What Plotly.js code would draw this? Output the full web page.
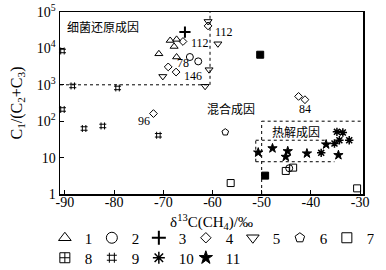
<!DOCTYPE html>
<html><head><meta charset="utf-8">
<script src="https://cdn.plot.ly/plotly-3.0.1.min.js"></script>
<style>html,body{margin:0;padding:0;background:#fff}#chart{width:386px;height:270px}</style>
</head><body><div id="chart"></div>
<script>
// ---- data (delta13C of CH4 in permil, C1/(C2+C3)) ----
const s1x = [-68.6, -67.3, -67.8, -70.9, -67.3];
const s1y = [16500, 17700, 11300, 7100, 5800];
const s2x = [-64.6, -62.9, -44.4];
const s2y = [5800, 4400, 5.1];
const s3x = [-65.6];
const s3y = [28000];
const s4x = [-66.0, -69.0, -67.4, -72.0, -60.9, -42.5, -41.2];
const s4y = [15500, 3100, 2240, 162, 41500, 480, 390];
const s5x = [-70.1, -60.9, -58.9, -60.7, -61.5];
const s5y = [1700, 55000, 13400, 2600, 910];
const s6x = [-57.4];
const s6y = [50];
const s7x = [-56.3, -45.1, -43.6, -30.6];
const s7y = [2.0, 4.3, 5.3, 1.43];
const s8x = [-50.3, -49.3];
const s8y = [6700, 3.2];
const s9x = [-90.5, -88.4, -90.5, -86.1, -82.3, -79.3, -71.0];
const s9y = [8500, 930, 210, 63, 74, 820, 41];
const s10x = [-37.9, -35.2, -34.2, -34.7, -33.5, -32.2];
const s10y = [13.5, 24.5, 30, 51, 49, 30];
const s11x = [-50.7, -47.8, -44.7, -45.1, -40.8, -36.9, -34.4];
const s11y = [13.8, 18, 15, 10.5, 13, 23, 11.7];

const legendLabels = ['1','2','3','4','5','6','7','8','9','10','11'];
const xTickVals = [-90, -80, -70, -60, -50, -40, -30];
const xTickText = ['-90', '-80', '-70', '-60', '-50', '-40', '-30'];
const yTickVals = [1, 10, 100, 1000, 10000, 100000];
const yTickText = ['1', '10', '10<sup>2</sup>', '10<sup>3</sup>', '10<sup>4</sup>', '10<sup>5</sup>'];

// region boundaries
const bactBoundX = -60.5, bactBoundY = 1000;
const thermBoundX = -50, thermBoundY = 100;
const starBox = {x0: -51.2, x1top: -37.2, x1bot: -35.2, y0: 7.7, y1: 30};

// text labels: [text, x, log10(y), anchor]
const sampleLabels = [
  ['112', -64.8, 4.16, 'left'],
  ['78', -67.6, 3.59, 'left'],
  ['146', -66.2, 3.23, 'left'],
  ['112', -59.9, 4.44, 'left'],
  ['96', -73.9, 2.0, 'center'],
  ['84', -41.1, 2.34, 'center']
];
const zoneLabels = [
  ['细菌还原成因', -82.3, 4.60],
  ['混合成因', -56.2, 2.36],
  ['热解成因', -43.0, 1.73]
];

const SERIF = 'Liberation Serif, Times New Roman, serif';
const CJK = 'Noto Sans CJK SC, sans-serif';

// [x, y, symbol, dataSize, legendSize, lineWidth, legendId, legendSymbol]
const series = [
  [s1x, s1y, 'triangle-up-open', 7, 11, 1, 'legend'],
  [s2x, s2y, 'circle-open', 7, 11, 1, 'legend'],
  [s3x, s3y, 'cross-thin-open', 8, 10, 2, 'legend'],
  [s4x, s4y, 'diamond-open', 6, 8, 1, 'legend'],
  [s5x, s5y, 'triangle-down-open', 7, 11, 1, 'legend'],
  [s6x, s6y, 'pentagon-open', 7, 10, 1, 'legend'],
  [s7x, s7y, 'square-open', 7, 10, 1, 'legend'],
  [s8x, s8y, 'square', 7, 10, 1, 'legend2', 'square-cross-open'],
  [s9x, s9y, 'hash-open', 7, 10, 1, 'legend2'],
  [s10x, s10y, 'asterisk-open', 7, 10, 1.5, 'legend2'],
  [s11x, s11y, 'star', 7, 10, 1, 'legend2']
];

const data = [];
series.forEach(function (s, i) {
  data.push({
    type: 'scatter', mode: 'markers', x: s[0], y: s[1], name: legendLabels[i],
    showlegend: false, cliponaxis: false, hoverinfo: 'skip',
    marker: {symbol: s[2], size: s[3], color: '#000', line: {color: '#000', width: s[5]}}
  });
});
series.forEach(function (s, i) {
  const t = {
    type: 'scatter', mode: 'markers', x: [null], y: [null], name: legendLabels[i],
    legend: s[6], showlegend: true, hoverinfo: 'skip',
    marker: {symbol: s[7] || s[2], size: s[4], color: '#000', line: {color: '#000', width: s[5]}}
  };
  if (i === series.length - 1) t.legendwidth = 20;
  data.push(t);
});

const dot = {color: '#000', width: 1, dash: 'dot'};
const shapes = [
  {type: 'line', xref: 'x', yref: 'y', x0: -91, x1: bactBoundX, y0: bactBoundY, y1: bactBoundY, line: dot},
  {type: 'line', xref: 'x', yref: 'y', x0: bactBoundX, x1: bactBoundX, y0: bactBoundY, y1: 100000, line: dot},
  {type: 'line', xref: 'x', yref: 'y', x0: thermBoundX, x1: -29.4, y0: thermBoundY, y1: thermBoundY, line: dot},
  {type: 'line', xref: 'x', yref: 'y', x0: thermBoundX, x1: thermBoundX, y0: 1, y1: thermBoundY, line: dot},
  {type: 'line', xref: 'x', yref: 'y', x0: starBox.x0, x1: starBox.x1top, y0: starBox.y1, y1: starBox.y1, line: dot},
  {type: 'line', xref: 'x', yref: 'y', x0: starBox.x0, x1: starBox.x1bot, y0: starBox.y0, y1: starBox.y0, line: dot},
  {type: 'line', xref: 'x', yref: 'y', x0: starBox.x0, x1: starBox.x0, y0: starBox.y0, y1: starBox.y1, line: dot}
];

const annotations = [];
sampleLabels.forEach(function (l) {
  annotations.push({text: l[0], x: l[1], y: l[2], xref: 'x', yref: 'y', xanchor: l[3], yanchor: 'middle',
    showarrow: false, font: {family: SERIF, size: 12, color: '#000'}});
});
zoneLabels.forEach(function (l) {
  annotations.push({text: l[0], x: l[1], y: l[2], xref: 'x', yref: 'y', xanchor: 'center', yanchor: 'middle',
    showarrow: false, font: {family: CJK, size: 12, color: '#000'}});
});

const legendCommon = {
  orientation: 'h', xanchor: 'left', yanchor: 'middle',
  entrywidth: 2, entrywidthmode: 'pixels',
  font: {family: SERIF, size: 15, color: '#000'}, bgcolor: 'rgba(0,0,0,0)', borderwidth: 0
};

const layout = {
  width: 386, height: 270,
  margin: {l: 60, r: 23, t: 12, b: 76, autoexpand: false},
  paper_bgcolor: '#fff', plot_bgcolor: '#fff',
  font: {family: SERIF, size: 14, color: '#000'},
  showlegend: true,
  xaxis: {
    range: [-91, -29.4], showgrid: false, zeroline: false,
    showline: true, mirror: true, linecolor: '#000', linewidth: 1.5,
    ticks: 'inside', ticklen: 4, tickcolor: '#000',
    tickvals: xTickVals, ticktext: xTickText, ticklabelstandoff: -5,
    tickfont: {family: SERIF, size: 14},
    title: {text: 'δ<sup>13</sup>C(CH<sub>4</sub>)/‰', font: {family: SERIF, size: 15}, standoff: 7},
    automargin: false
  },
  yaxis: {
    type: 'log', range: [0, 5], showgrid: false, zeroline: false,
    showline: true, mirror: true, linecolor: '#000', linewidth: 1.5,
    ticks: 'inside', ticklen: 4, tickcolor: '#000',
    tickvals: yTickVals, ticktext: yTickText,
    tickfont: {family: SERIF, size: 14},
    title: {text: 'C<sub>1</sub>/(C<sub>2</sub>+C<sub>3</sub>)', font: {family: SERIF, size: 16}, standoff: 10},
    automargin: false
  },
  legend: Object.assign({x: -0.05, y: -0.2418}, legendCommon),
  legend2: Object.assign({x: -0.05, y: -0.3516}, legendCommon),
  shapes: shapes,
  annotations: annotations
};

Plotly.newPlot('chart', data, layout, {staticPlot: true, displayModeBar: false});
</script>
</body></html>
